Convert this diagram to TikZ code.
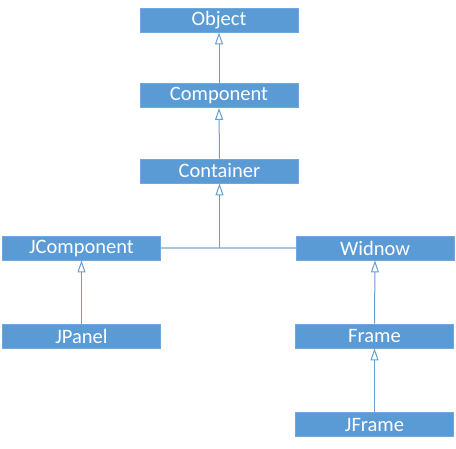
\documentclass[tikz,border=0pt]{standalone}
\usepackage{fontspec}
\setmainfont{Carlito}
\usetikzlibrary{arrows.meta}
\definecolor{boxfill}{HTML}{5B9BD5}
\definecolor{boxedge}{HTML}{6FA8DC}
\definecolor{linec}{HTML}{6A9ED3}
\definecolor{barc}{HTML}{A9C6E3}
\begin{document}
\begin{tikzpicture}[x=1pt,y=-1pt,
  cls/.style={fill=boxfill,draw=boxedge,line width=0.8pt,text=white,
    minimum width=158pt,minimum height=24pt,inner sep=0pt,
    font=\fontsize{20.5}{24}\selectfont},
  inh/.style={draw=linec,line width=1pt,
    -{Triangle[open,length=12pt,width=8pt,fill=white]}},
  bar/.style={draw=barc,line width=2pt}]
\useasboundingbox (0,0) rectangle (456,448);
\node[cls] (object) at (219,20) {Object};
\node[cls] (component) at (219,95.5) {Component};
\node[cls] (container) at (219.5,171) {Container};
\node[cls] (jcomp) at (81.5,248) {JComponent};
\node[cls] (window) at (375,248) {Widnow};
\node[cls] (jpanel) at (81.5,336) {JPanel};
\node[cls] (frame) at (374.5,336) {Frame};
\node[cls] (jframe) at (374.5,424.5) {JFrame};
\coordinate (junc) at (219.5,248);
\draw[bar] (jcomp.east) -- (window.west);
\draw[inh] (component.north) -- (object.south);
\draw[inh] (container.north) -- (component.south);
\draw[inh] (junc) -- (container.south);
\draw[inh] (jpanel.north) -- (jcomp.south);
\draw[inh] (frame.north) -- (window.south);
\draw[inh] (jframe.north) -- (frame.south);
\end{tikzpicture}
\end{document}
